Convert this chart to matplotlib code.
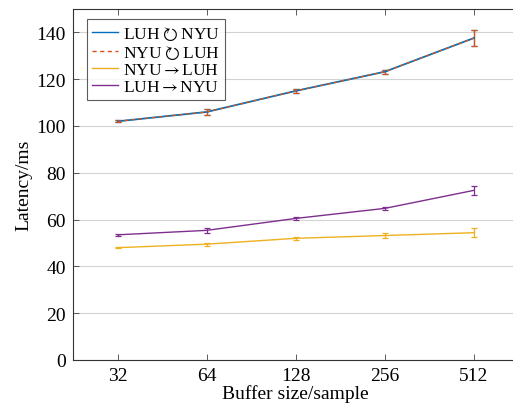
import matplotlib
matplotlib.use("Agg")
import matplotlib.pyplot as plt
from matplotlib.lines import Line2D
import numpy as np

plt.rcParams['font.family'] = ['Liberation Serif', 'DejaVu Sans']
plt.rcParams['mathtext.fontset'] = 'stix'

categories = ["32", "64", "128", "256", "512"]
luh_nyu_rt = [102.0, 106.0, 115.0, 123.2, 137.6]
luh_nyu_rt_err = [0.5, 1.4, 1.0, 0.9, 3.5]
nyu_luh_rt = [102.0, 106.0, 115.0, 123.2, 137.6]
nyu_luh_rt_err = [0.5, 1.4, 1.0, 0.9, 3.5]
nyu_to_luh = [48.0, 49.5, 52.0, 53.2, 54.4]
nyu_to_luh_err = [0.3, 0.7, 0.7, 1.0, 1.9]
luh_to_nyu = [53.5, 55.4, 60.5, 64.8, 72.5]
luh_to_nyu_err = [0.5, 1.0, 0.7, 0.5, 2.0]

labels = [r"LUH$\circlearrowright$NYU", r"NYU$\circlearrowright$LUH",
          r"NYU$\rightarrow$LUH", r"LUH$\rightarrow$NYU"]
colors = ["#0072BD", "#D95319", "#EDB120", "#7E2F8E"]
widths = [1.3, 0.9, 1.0, 1.0]

fig = plt.figure(figsize=(5.13, 4.06), dpi=100)
W, H = 513, 406
ax = fig.add_axes([73 / W, 1 - 361 / H, (518.5 - 73) / W, (361 - 10) / H])

x = np.arange(len(categories))
series = [(luh_nyu_rt, luh_nyu_rt_err, '-'), (nyu_luh_rt, nyu_luh_rt_err, '--'),
          (nyu_to_luh, nyu_to_luh_err, '-'), (luh_to_nyu, luh_to_nyu_err, '-')]
handles = []
for (y, e, ls), lab, c, lw in zip(series, labels, colors, widths):
    kw = dict(dashes=(3, 2.5)) if ls == '--' else {}
    ax.errorbar(x, y, yerr=e, color=c, linestyle=ls, linewidth=lw,
                elinewidth=0.9, capsize=2.5, capthick=0.9, **kw)
    handles.append(Line2D([], [], color=c, linestyle=ls, linewidth=1.0, label=lab, **kw))

ax.set_xlim(-0.5, 4.5)
ax.set_ylim(0, 150)
ax.set_yticks(np.arange(0, 141, 20))
ax.set_xticks(x)
ax.set_xticklabels(categories)
ax.yaxis.grid(True, color='#d3d3d3', linewidth=0.8)
ax.set_axisbelow(True)
ax.tick_params(direction='in', top=True, right=False, labelsize=14, length=4,
               width=0.6, color='#444444', pad=5)
for s in ax.spines.values():
    s.set_linewidth(0.8)
    s.set_color('#333333')
ax.spines['right'].set_visible(False)

ax.set_xlabel("Buffer size/sample", fontsize=14, labelpad=0)
ax.set_ylabel("Latency/ms", fontsize=14, labelpad=3)

leg = ax.legend(handles=handles, loc='upper left',
                bbox_to_anchor=(14 / 445.5, 1 - 10 / 351),
                fontsize=12.5, frameon=True, fancybox=False, edgecolor='#333333',
                handlelength=1.5, handletextpad=0.25, borderpad=0.3,
                labelspacing=0.05, borderaxespad=0)
leg.get_frame().set_linewidth(0.8)

fig.savefig("out.png", dpi=100)
